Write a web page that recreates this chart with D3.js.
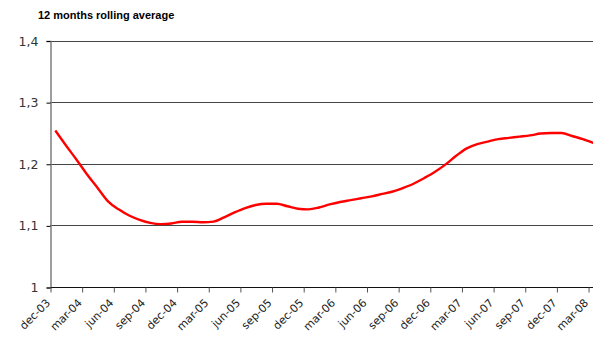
<!DOCTYPE html>
<html><head><meta charset="utf-8">
<script src="https://cdn.jsdelivr.net/npm/d3@7"></script>
<style>body{margin:0;background:#fff}svg{display:block}</style>
</head><body><svg id="c" width="593" height="339"></svg>
<script>
const title = "12 months rolling average";
const months = ["dec-03","jan-04","feb-04","mar-04","apr-04","may-04","jun-04","jul-04","aug-04","sep-04","oct-04","nov-04",
"dec-04","jan-05","feb-05","mar-05","apr-05","may-05","jun-05","jul-05","aug-05","sep-05","oct-05","nov-05",
"dec-05","jan-06","feb-06","mar-06","apr-06","may-06","jun-06","jul-06","aug-06","sep-06","oct-06","nov-06",
"dec-06","jan-07","feb-07","mar-07","apr-07","may-07","jun-07","jul-07","aug-07","sep-07","oct-07","nov-07",
"dec-07","jan-08","feb-08","mar-08"];
const values = [1.254,1.230,1.207,1.183,1.161,1.139,1.126,1.116,1.109,1.104,1.102,1.103,
1.106,1.106,1.105,1.106,1.113,1.121,1.128,1.133,1.135,1.135,1.131,1.127,
1.126,1.129,1.134,1.138,1.141,1.144,1.147,1.151,1.155,1.161,1.168,1.177,
1.187,1.199,1.213,1.225,1.232,1.236,1.240,1.242,1.244,1.246,1.249,1.250,
1.250,1.245,1.240,1.234];
const yTicks = [1,1.1,1.2,1.3,1.4];
const yTickLabels = ["1","1,1","1,2","1,3","1,4"];

const svg = d3.select("#c");
const x0 = 50, monthW = 10.55;
const x = d3.scaleLinear().domain([0, months.length]).range([x0, x0 + months.length*monthW]);
const y = d3.scaleLinear().domain([1,1.4]).range([287,40.5]);
const right = 593;

// gridlines
svg.append("g").selectAll("line").data(yTicks.slice(1)).join("line")
  .attr("x1", x0).attr("x2", right)
  .attr("y1", d=>Math.round(y(d))+0.5).attr("y2", d=>Math.round(y(d))+0.5)
  .attr("stroke", "#444").attr("stroke-width", 1);

// y axis
const yAxis = d3.axisLeft(y).tickValues(yTicks).tickFormat((d,i)=>yTickLabels[i]).tickSize(4).tickPadding(8);
const gy = svg.append("g").attr("transform", `translate(${x0+0.5},0.5)`).call(yAxis);
gy.select(".domain").attr("stroke","#7f7f7f").attr("stroke-width",1.5);
gy.selectAll(".tick line").attr("stroke","#000");
gy.selectAll("text").attr("font-family","'DejaVu Sans', Verdana, sans-serif").attr("font-size",12.5).attr("fill","#333");

// x axis
const tickIdx = months.map((m,i)=>i).filter(i=>i%3===0);
const xAxis = d3.axisBottom(x).tickValues(tickIdx).tickFormat(i=>months[i]).tickSize(5).tickSizeOuter(0);
const gx = svg.append("g").attr("transform", `translate(0.5,${Math.round(y(1))+0.5})`).call(xAxis);
gx.select(".domain").attr("d", `M${x0},0H${right}`).attr("stroke","#111");
gx.selectAll(".tick line").attr("stroke","#555");
gx.selectAll("text")
  .attr("font-family","'DejaVu Sans', Verdana, sans-serif").attr("font-size",11).attr("fill","#222")
  .attr("text-anchor","end").attr("dy",null).attr("y",0)
  .attr("transform","translate(0,16) rotate(-45)");

// line
const line = d3.line().x((d,i)=>x(i+0.5)).y(d=>y(d)).curve(d3.curveMonotoneX);
svg.append("path").datum(values).attr("d", line)
  .attr("fill","none").attr("stroke","#ff0000").attr("stroke-width",2.4);

// title
svg.append("text").attr("x",38).attr("y",19).text(title)
  .attr("font-family","'Liberation Sans', Arial, sans-serif").attr("font-weight","bold").attr("font-size",11).attr("fill","#000");
</script></body></html>
